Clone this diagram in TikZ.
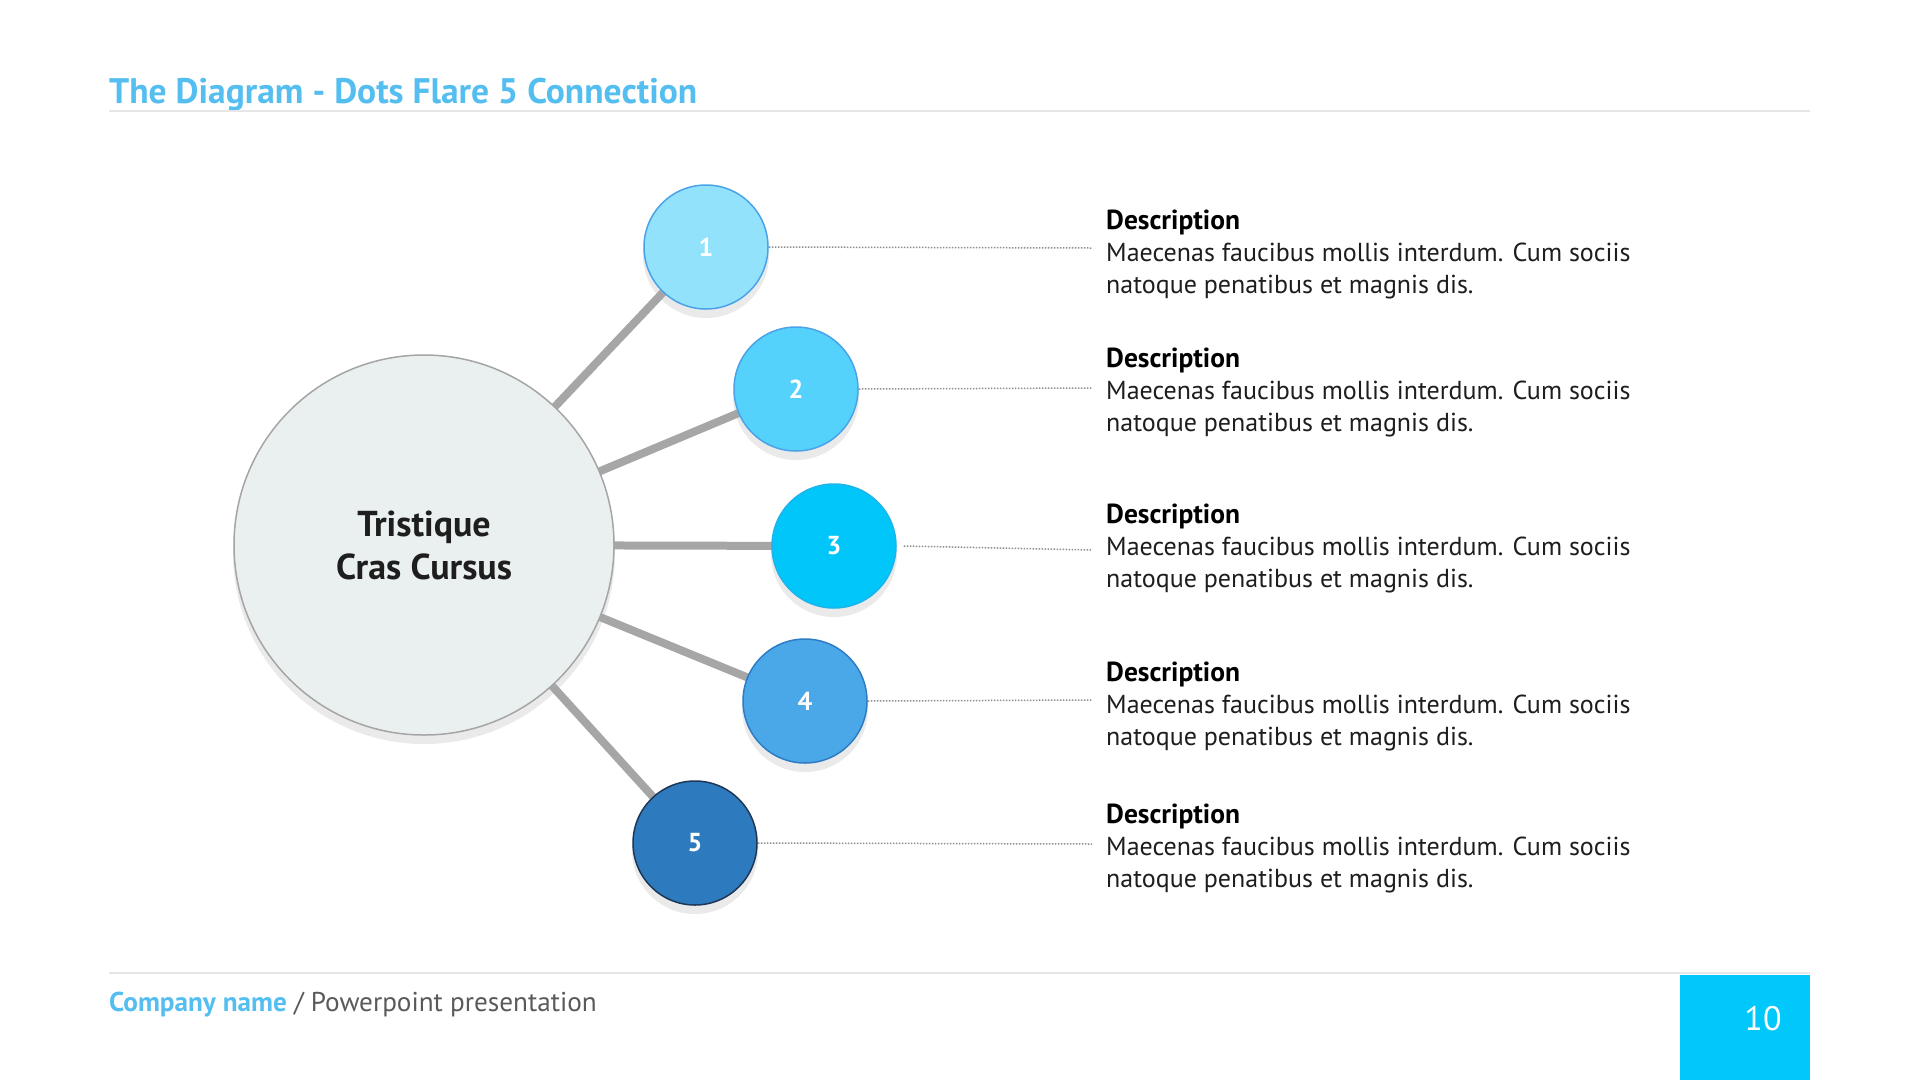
\documentclass[tikz,border=0pt]{standalone}
\usepackage{fontspec}
\setmainfont{PT Sans}
\usetikzlibrary{positioning}
\definecolor{titleblue}{RGB}{85,190,240}
\definecolor{hubfill}{RGB}{234,240,240}
\definecolor{hubline}{RGB}{165,165,165}
\definecolor{linkgray}{RGB}{166,166,166}
\definecolor{shadegray}{RGB}{234,234,234}
\definecolor{dotgray}{RGB}{140,140,140}
\definecolor{rulegray}{RGB}{230,230,230}
\definecolor{onefill}{RGB}{147,226,252}
\definecolor{oneline}{RGB}{74,163,232}
\definecolor{twofill}{RGB}{85,210,252}
\definecolor{threefill}{RGB}{0,198,250}
\definecolor{threeline}{RGB}{30,180,235}
\definecolor{fourfill}{RGB}{74,168,232}
\definecolor{fourline}{RGB}{46,124,196}
\definecolor{fivefill}{RGB}{46,122,191}
\definecolor{fiveline}{RGB}{30,55,85}
\definecolor{pagecyan}{RGB}{0,200,250}
\definecolor{bodytext}{RGB}{30,30,30}
\definecolor{footgray}{RGB}{90,90,90}
\pgfdeclarelayer{paper}
\pgfdeclarelayer{shade}
\pgfdeclarelayer{link}
\pgfsetlayers{paper,shade,link,main}
\tikzset{
  dot/.style 2 args={circle, fill=#1, draw=#2, line width=1.5pt, minimum size=124pt,
    inner sep=0pt, text=white, font=\fontsize{26}{26}\selectfont\bfseries},
  linkline/.style={linkgray, line width=8pt},
  dotline/.style={dotgray, line width=1.5pt, dash pattern=on 1.5pt off 1.5pt},
  desc/.style={anchor=base west, inner sep=0pt, text=black, font=\fontsize{27.5}{30}\selectfont\bfseries},
  body/.style={anchor=base west, inner sep=0pt, text=bodytext, font=\fontsize{26}{30}\selectfont}
}
\begin{document}
\begin{tikzpicture}[x=1pt, y=-1pt]
    \useasboundingbox (0,0) rectangle (1920,1080);
    \begin{pgfonlayer}{paper}
      \fill[white] (0,0) rectangle (1920,1080);
    \end{pgfonlayer}

    % Header
    \node[anchor=base west, inner sep=0pt, text=titleblue, font=\fontsize{35.5}{42}\selectfont\bfseries] (title) at (109,103) {The Diagram - Dots Flare 5 Connection};
    \draw[rulegray, line width=2pt] (109,111) -- (1810,111);

    % Hub and dots
    \node[circle, fill=hubfill, draw=hubline, line width=1.5pt, minimum size=380pt, inner sep=0pt, align=center,
      text=bodytext, font=\fontsize{36}{43}\selectfont\bfseries] (hub) at (424,545) {Tristique\\Cras Cursus};
    \node[dot={onefill}{oneline}] (n1) at (706,247) {1};
    \node[dot={twofill}{oneline}] (n2) at (796,389) {2};
    \node[dot={threefill}{threeline}] (n3) at (834,546) {3};
    \node[dot={fourfill}{fourline}] (n4) at (805,701) {4};
    \node[dot={fivefill}{fiveline}] (n5) at (695,843) {5};

    % Shadows
    \begin{pgfonlayer}{shade}
      \fill[shadegray] ([yshift=-8pt]hub.center) circle (191pt);
      \foreach \n in {n1,n2,n3,n4,n5}
        \fill[shadegray] ([yshift=-8pt]\n.center) circle (63pt);
    \end{pgfonlayer}

    % Spokes
    \begin{pgfonlayer}{link}
      \foreach \n in {n1,n2,n3,n4,n5}
        \draw[linkline] (hub.center) -- (\n.center);
    \end{pgfonlayer}

    % Leaders
    \coordinate (t1) at (1092,248);
    \coordinate (t2) at (1092,388);
    \coordinate (t3) at (1092,550);
    \coordinate (t4) at (1092,700);
    \coordinate (t5) at (1092,844);
    \draw[dotline] (n1.east) -- (t1);
    \draw[dotline] (n2.east) -- (t2);
    \draw[dotline] ([xshift=7pt]n3.east) -- (t3);
    \draw[dotline] (n4.east) -- (t4);
    \draw[dotline] (n5.east) -- (t5);

    % Descriptions
    \foreach \i/\y in {1/229, 2/367, 3/523, 4/681, 5/823} {
      \node[desc] (d\i) at (1106,\y) {Description};
      \node[body] (a\i) at (1106,\y+32) {Maecenas faucibus mollis interdum. Cum sociis};
      \node[body] (b\i) at (1106,\y+64) {natoque penatibus et magnis dis.};
    }

    % Footer
    \draw[rulegray, line width=2pt] (109,973) -- (1810,973);
    \node[anchor=base west, inner sep=0pt, font=\fontsize{27.2}{32}\selectfont] (foot) at (109,1011)
      {\textcolor{titleblue}{\bfseries Company name} \textcolor{footgray}{/ Powerpoint presentation}};
    \fill[pagecyan] (1680,975) rectangle (1810,1080);
    \node[text=white, font=\fontsize{34}{34}\selectfont] (page) at (1763,1019) {10};
\end{tikzpicture}
\end{document}
